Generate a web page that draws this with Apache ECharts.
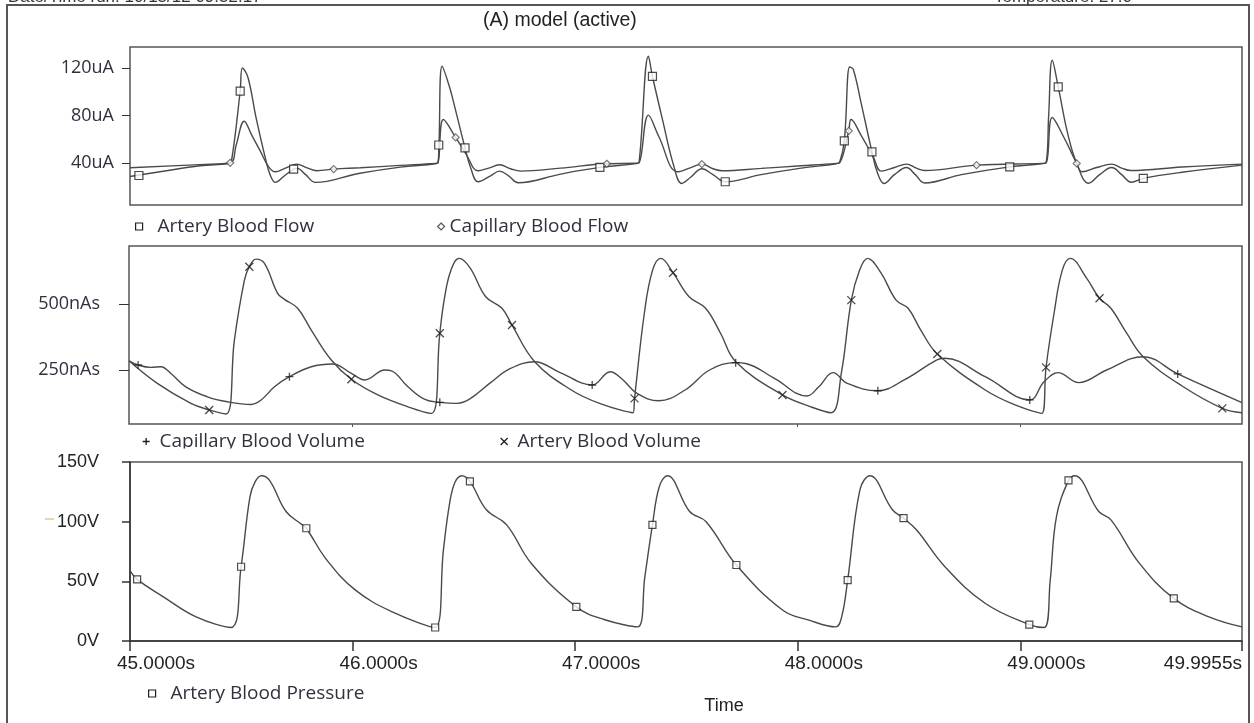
<!DOCTYPE html>
<html>
<head>
<meta charset="utf-8">
<title>(A) model (active)</title>
<script src="https://cdn.jsdelivr.net/npm/echarts@6.0.0/dist/echarts.min.js"></script>
<style>
html, body { margin: 0; padding: 0; background: #fff; }
#chart { width: 1254px; height: 723px; }
</style>
</head>
<body>
<div id="chart"></div>
<script>
// time axis, seconds
var timeMin = 45.0;
var timeMax = 49.9955;
var timeTicks = [45, 46, 47, 48, 49, 49.9955];
var flowTicks = [40, 80, 120];
var volumeTicks = [250, 500];
var pressureTicks = [0, 50, 100, 150];

// plot 1: blood flow (uA), [time, value]
var arteryFlow = [
  [45.000, 28.5], [45.135, 32.4], [45.315, 37.5], [45.441, 39.2], [45.455, 40.5], [45.495, 100.4],
  [45.505, 120.0], [45.530, 112.0], [45.567, 77.4], [45.608, 44.0], [45.630, 29.6], [45.653, 23.5],
  [45.689, 28.2], [45.735, 34.7], [45.752, 35.3], [45.788, 30.2], [45.833, 23.5], [46.027, 31.0],
  [46.215, 36.4], [46.373, 39.2],
  [46.384, 40.5], [46.388, 55.0], [46.402, 121.4], [46.436, 103.5], [46.463, 84.0], [46.505, 52.6],
  [46.530, 36.0], [46.564, 24.0], [46.620, 29.0], [46.660, 33.0], [46.701, 29.0], [46.744, 23.2],
  [46.935, 30.5], [47.111, 36.1], [47.273, 39.3],
  [47.287, 40.5], [47.329, 129.9], [47.347, 113.0], [47.394, 75.0], [47.442, 38.0], [47.479, 22.6],
  [47.520, 28.0], [47.569, 35.0], [47.619, 30.0], [47.674, 24.0], [47.835, 30.0], [48.015, 35.5],
  [48.173, 39.2],
  [48.188, 40.5], [48.209, 58.5], [48.233, 120.8], [48.249, 119.0], [48.285, 90.0], [48.333, 49.3],
  [48.357, 32.0], [48.388, 22.6], [48.434, 30.0], [48.488, 36.0], [48.528, 30.0], [48.570, 23.0],
  [48.735, 30.0], [48.952, 36.6], [49.095, 39.2],
  [49.116, 40.5], [49.127, 80.0], [49.143, 126.5], [49.170, 104.0], [49.212, 65.0], [49.253, 39.5],
  [49.307, 22.8], [49.356, 30.0], [49.410, 36.0], [49.455, 30.0], [49.498, 23.6], [49.552, 26.9],
  [49.725, 32.0], [49.9955, 38.0]
];
var arteryFlowMarks = [
  [45.040, 29.3], [45.495, 100.4], [45.735, 34.7], [46.387, 55.0], [46.505, 52.6], [47.111, 36.1],
  [47.347, 113.0], [47.674, 24.0], [48.209, 58.5], [48.333, 49.3], [48.952, 36.6], [49.170, 104.0],
  [49.552, 26.9]
];
var capillaryFlow = [
  [45.000, 35.8], [45.315, 38.5], [45.450, 40.0], [45.477, 55.0], [45.513, 75.1], [45.547, 63.3],
  [45.585, 50.0], [45.623, 36.6], [45.653, 32.4], [45.698, 35.5], [45.750, 38.9], [45.792, 36.0],
  [45.840, 33.3], [45.915, 34.7], [46.035, 35.8], [46.215, 37.8], [46.373, 39.5],
  [46.384, 40.0], [46.408, 76.5], [46.463, 61.4], [46.508, 48.0], [46.564, 33.3], [46.611, 35.5],
  [46.660, 38.3], [46.710, 35.0], [46.755, 33.0], [46.935, 35.5], [47.142, 39.2], [47.273, 39.6],
  [47.287, 40.0], [47.329, 80.2], [47.376, 62.0], [47.460, 32.4], [47.520, 36.0], [47.569, 38.9],
  [47.619, 35.0], [47.660, 33.3], [47.835, 35.3], [48.015, 37.5], [48.173, 39.5],
  [48.188, 40.0], [48.229, 67.0], [48.239, 76.5], [48.285, 63.0], [48.339, 45.0], [48.375, 33.0],
  [48.434, 36.0], [48.488, 38.9], [48.533, 35.5], [48.569, 33.5], [48.803, 38.0], [49.095, 39.5],
  [49.116, 40.0], [49.143, 78.2], [49.194, 62.0], [49.253, 39.5], [49.277, 32.4], [49.343, 36.0],
  [49.410, 38.9], [49.455, 35.5], [49.496, 33.5], [49.725, 36.5], [49.9955, 38.9]
];
var capillaryFlowMarks = [
  [45.450, 40.0], [45.915, 34.7], [46.463, 61.4], [47.142, 39.2], [47.569, 38.9], [48.229, 67.0],
  [48.803, 38.0], [49.253, 39.5]
];

// plot 2: blood volume (nAs)
var capillaryVolume = [
  [45.000, 285], [45.041, 269], [45.098, 260], [45.143, 262.5], [45.188, 237], [45.255, 186],
  [45.352, 148], [45.442, 129], [45.548, 119], [45.593, 136], [45.653, 186], [45.720, 224.5],
  [45.818, 262.5], [45.915, 273], [45.998, 237], [46.058, 212], [46.148, 250], [46.178, 247],
  [46.252, 186], [46.328, 138], [46.395, 127], [46.472, 123], [46.530, 140], [46.620, 200],
  [46.710, 255], [46.821, 281.6], [46.935, 240], [47.079, 193], [47.160, 243.6], [47.214, 215],
  [47.280, 161], [47.378, 133], [47.496, 174], [47.606, 250], [47.723, 278], [47.768, 275],
  [47.897, 218], [48.042, 151], [48.096, 186], [48.160, 240], [48.224, 199], [48.361, 171],
  [48.479, 212], [48.624, 288], [48.661, 294.5], [48.843, 224.5], [49.043, 136], [49.107, 205],
  [49.170, 240], [49.262, 202], [49.388, 250], [49.552, 300.6], [49.707, 235], [49.9955, 125.6]
];
var capillaryVolumeMarks = [
  [45.041, 269], [45.720, 224.5], [46.395, 127], [47.079, 193], [47.723, 278], [48.361, 171],
  [49.043, 136], [49.707, 235]
];
var arteryVolume = [
  [45.000, 285], [45.127, 199], [45.278, 123], [45.360, 98], [45.435, 82.6], [45.473, 364],
  [45.518, 592], [45.540, 643], [45.570, 672], [45.608, 656], [45.667, 542], [45.698, 519],
  [45.757, 485], [45.818, 402], [45.908, 288], [45.998, 214.6], [46.117, 155], [46.252, 110],
  [46.358, 85],
  [46.395, 389.6], [46.417, 529], [46.445, 630], [46.481, 675], [46.530, 640], [46.601, 529],
  [46.674, 485], [46.719, 421], [46.821, 281.6], [46.985, 174], [47.115, 122], [47.262, 87.5],
  [47.269, 142], [47.313, 466], [47.350, 630], [47.387, 675], [47.442, 620], [47.514, 529],
  [47.588, 485], [47.655, 390], [47.723, 281.6], [47.933, 155], [48.060, 110], [48.151, 87.5],
  [48.197, 237], [48.242, 516], [48.279, 630], [48.315, 675], [48.375, 620], [48.443, 516],
  [48.497, 485], [48.555, 400], [48.628, 311], [48.843, 174], [48.983, 115], [49.097, 85],
  [49.116, 260], [49.152, 466], [49.189, 630], [49.225, 675], [49.298, 600], [49.356, 523],
  [49.407, 485], [49.478, 390], [49.552, 300.6], [49.725, 190], [49.907, 104], [49.9955, 87.5]
];
var arteryVolumeMarks = [
  [45.360, 98], [45.540, 643], [45.998, 214.6], [46.395, 389.6], [46.719, 421], [47.269, 142],
  [47.442, 620], [47.933, 155], [48.242, 516], [48.628, 311], [49.116, 260], [49.356, 523],
  [49.907, 104]
];

// plot 3: artery blood pressure (V)
var arteryPressure = [
  [45.000, 58.9], [45.032, 51.6], [45.150, 37.0], [45.297, 20.2], [45.453, 11.3], [45.499, 62.2],
  [45.539, 121.0], [45.563, 133.7], [45.590, 138.5], [45.627, 134.6], [45.701, 108.5], [45.774, 97.3],
  [45.792, 94.5], [45.884, 67.9], [46.013, 42.6], [46.178, 24.4], [46.371, 11.3],
  [46.408, 76.3], [46.436, 115.5], [46.460, 133.0], [46.491, 138.5], [46.527, 133.7], [46.601, 110.0],
  [46.692, 97.3], [46.803, 65.0], [47.005, 28.6], [47.130, 18.0], [47.280, 11.8],
  [47.313, 54.0], [47.347, 97.3], [47.378, 129.5], [47.414, 138.5], [47.514, 108.5], [47.588, 100.0],
  [47.724, 63.7], [47.933, 25.8], [48.050, 17.5], [48.170, 11.8],
  [48.197, 20.2], [48.224, 51.0], [48.279, 126.7], [48.324, 138.5], [48.425, 110.0], [48.475, 103.0],
  [48.534, 93.0], [48.661, 62.2], [48.843, 31.4], [49.040, 13.8], [49.107, 11.3],
  [49.134, 51.0], [49.162, 104.3], [49.216, 134.6], [49.243, 138.5], [49.352, 108.5], [49.407, 101.5],
  [49.535, 65.0], [49.689, 35.7], [49.850, 20.0], [49.9955, 11.8]
];
var arteryPressureMarks = [
  [45.032, 51.6], [45.499, 62.2], [45.792, 94.5], [46.371, 11.3], [46.527, 133.7], [47.005, 28.6],
  [47.347, 97.3], [47.724, 63.7], [48.224, 51.0], [48.475, 103.0], [49.040, 13.8], [49.216, 134.6],
  [49.689, 35.7]
];

var traceColor = '#4a4a4a';
var plusPath = 'path://M5,0L5,10M0,5L10,5';
var crossPath = 'path://M0,0L10,10M10,0L0,10';
var squareStyle = { color: '#fff', borderColor: '#1e1e1e', borderWidth: 1.2 };
var diamondStyle = { color: '#fff', borderColor: '#555', borderWidth: 1.2 };
var strokeStyle = { color: '#1e1e1e', borderColor: '#1e1e1e', borderWidth: 1.3 };
var legendText = { fontFamily: 'Open Sans', fontSize: 19, color: '#30303e' };
var calibriLabel = { fontFamily: 'Open Sans', fontSize: 18, color: '#30303e' };
var arialLabel = { fontFamily: 'Liberation Sans', fontSize: 18, color: '#222' };

function trace(name, data, idx) {
  return {
    name: name, type: 'line', xAxisIndex: idx, yAxisIndex: idx, data: data,
    smooth: 0.4, symbol: 'none', silent: true, z: 2,
    lineStyle: { color: traceColor, width: 1.4 },
    itemStyle: { color: traceColor }
  };
}
function marks(name, data, idx, symbol, size, style) {
  return {
    name: name, type: 'scatter', xAxisIndex: idx, yAxisIndex: idx, data: data,
    symbol: symbol, symbolSize: size, itemStyle: style, silent: true, z: 3
  };
}
function timeAxis(idx) {
  return {
    type: 'value', gridIndex: idx, min: timeMin, max: timeMax,
    axisLine: { show: false }, axisTick: { show: false },
    axisLabel: { show: false }, splitLine: { show: false }
  };
}
function legendItem(left, top, name, icon, style, fmt) {
  return {
    left: left, top: top, padding: 0, itemWidth: 7, itemHeight: 7, selectedMode: false,
    formatter: fmt || '{name}', textStyle: legendText,
    data: [{ name: name, icon: icon, itemStyle: style }]
  };
}

var myChart = echarts.init(document.getElementById('chart'));

var xMiddle = timeAxis(1);
xMiddle.axisTick = { show: true, customValues: [46, 48, 49], length: 3, lineStyle: { color: '#555' } };

var xBottom = {
  type: 'value', gridIndex: 2, min: timeMin, max: timeMax,
  name: 'Time', nameLocation: 'middle', nameGap: 56,
  nameTextStyle: { fontFamily: 'Liberation Sans', fontSize: 18, color: '#222', padding: [0, 0, 0, 76] },
  axisLine: { show: true, lineStyle: { color: '#333', width: 1.5 } },
  axisTick: { show: true, customValues: timeTicks, length: 10, lineStyle: { color: '#333', width: 1.5 } },
  axisLabel: {
    customValues: timeTicks, margin: 13, padding: [0, 0, 0, 52], alignMaxLabel: 'right',
    showMinLabel: true, showMaxLabel: true,
    fontFamily: 'Liberation Sans', fontSize: 19, color: '#222',
    formatter: function (v) { return v.toFixed(4) + 's'; }
  },
  splitLine: { show: false }
};

var option = {
  animation: false,
  backgroundColor: '#fff',
  title: {
    text: '(A) model (active)', left: 483, top: 11, padding: 0,
    textStyle: { fontFamily: 'Liberation Sans', fontSize: 19.5, fontWeight: 'normal', color: '#222' }
  },
  grid: [
    { left: 130, right: 12, top: 47, height: 158, show: true, borderColor: '#555', borderWidth: 1.5 },
    { left: 129, right: 12, top: 246, height: 178, show: true, borderColor: '#555', borderWidth: 1.5 },
    { left: 130, right: 12, top: 462, height: 179, show: true, borderColor: '#555', borderWidth: 1.5 }
  ],
  xAxis: [timeAxis(0), xMiddle, xBottom],
  yAxis: [
    {
      type: 'value', gridIndex: 0, min: 4.4, max: 137.7,
      axisLine: { show: false }, splitLine: { show: false },
      axisTick: { show: true, customValues: flowTicks, length: 8, lineStyle: { color: '#333' } },
      axisLabel: Object.assign({ customValues: flowTicks, margin: 16, formatter: '{value}uA' }, calibriLabel)
    },
    {
      type: 'value', gridIndex: 1, min: 44.5, max: 722,
      axisLine: { show: false }, splitLine: { show: false },
      axisTick: { show: true, customValues: volumeTicks, length: 10, lineStyle: { color: '#333' } },
      axisLabel: Object.assign({ customValues: volumeTicks, margin: 29, formatter: '{value}nAs' }, calibriLabel)
    },
    {
      type: 'value', gridIndex: 2, min: 0, max: 150,
      axisLine: { show: true, lineStyle: { color: '#333', width: 1.5 } }, splitLine: { show: false },
      axisTick: { show: true, customValues: pressureTicks, length: 8, lineStyle: { color: '#333', width: 1.5 } },
      axisLabel: Object.assign({ customValues: pressureTicks, margin: 31, formatter: '{value}V' }, arialLabel)
    }
  ],
  legend: [
    legendItem(135, 217, 'Artery Blood Flow', 'rect', squareStyle, '  {name}'),
    legendItem(437, 217, 'Capillary Blood Flow', 'diamond', diamondStyle),
    legendItem(142, 432, 'Capillary Blood Volume', plusPath, strokeStyle, ' {name}'),
    legendItem(500, 432, 'Artery Blood Volume', crossPath, strokeStyle, ' {name}'),
    legendItem(148, 684, 'Artery Blood Pressure', 'rect', squareStyle, '  {name}')
  ],
  graphic: [
    { type: 'rect', shape: { x: 7, y: 5, width: 1242, height: 740 }, style: { fill: 'none', stroke: '#555', lineWidth: 2 }, z: 0, silent: true },
    { type: 'text', x: 8, y: 6, style: { text: 'Date/Time run: 10/15/12 09:52:17', fontFamily: 'Liberation Sans', fontSize: 17, fill: '#333', verticalAlign: 'bottom' }, silent: true },
    { type: 'text', x: 994, y: 6, style: { text: 'Temperature: 27.0', fontFamily: 'Liberation Sans', fontSize: 17, fill: '#333', verticalAlign: 'bottom' }, silent: true },
    { type: 'line', shape: { x1: 45, y1: 519, x2: 54, y2: 519 }, style: { stroke: '#e3c496', lineWidth: 1.5 }, silent: true },
    { type: 'rect', shape: { x: 130, y: 448.5, width: 600, height: 8 }, style: { fill: '#fff' }, z: 100, silent: true }
  ],
  series: [
    trace('Artery Blood Flow', arteryFlow, 0),
    trace('Capillary Blood Flow', capillaryFlow, 0),
    marks('Artery Blood Flow', arteryFlowMarks, 0, 'rect', 8, squareStyle),
    marks('Capillary Blood Flow', capillaryFlowMarks, 0, 'diamond', 7, diamondStyle),
    trace('Capillary Blood Volume', capillaryVolume, 1),
    trace('Artery Blood Volume', arteryVolume, 1),
    marks('Capillary Blood Volume', capillaryVolumeMarks, 1, plusPath, 8, strokeStyle),
    marks('Artery Blood Volume', arteryVolumeMarks, 1, crossPath, 8, strokeStyle),
    trace('Artery Blood Pressure', arteryPressure, 2),
    marks('Artery Blood Pressure', arteryPressureMarks, 2, 'rect', 7, squareStyle)
  ]
};
myChart.setOption(option);
</script>
</body>
</html>
